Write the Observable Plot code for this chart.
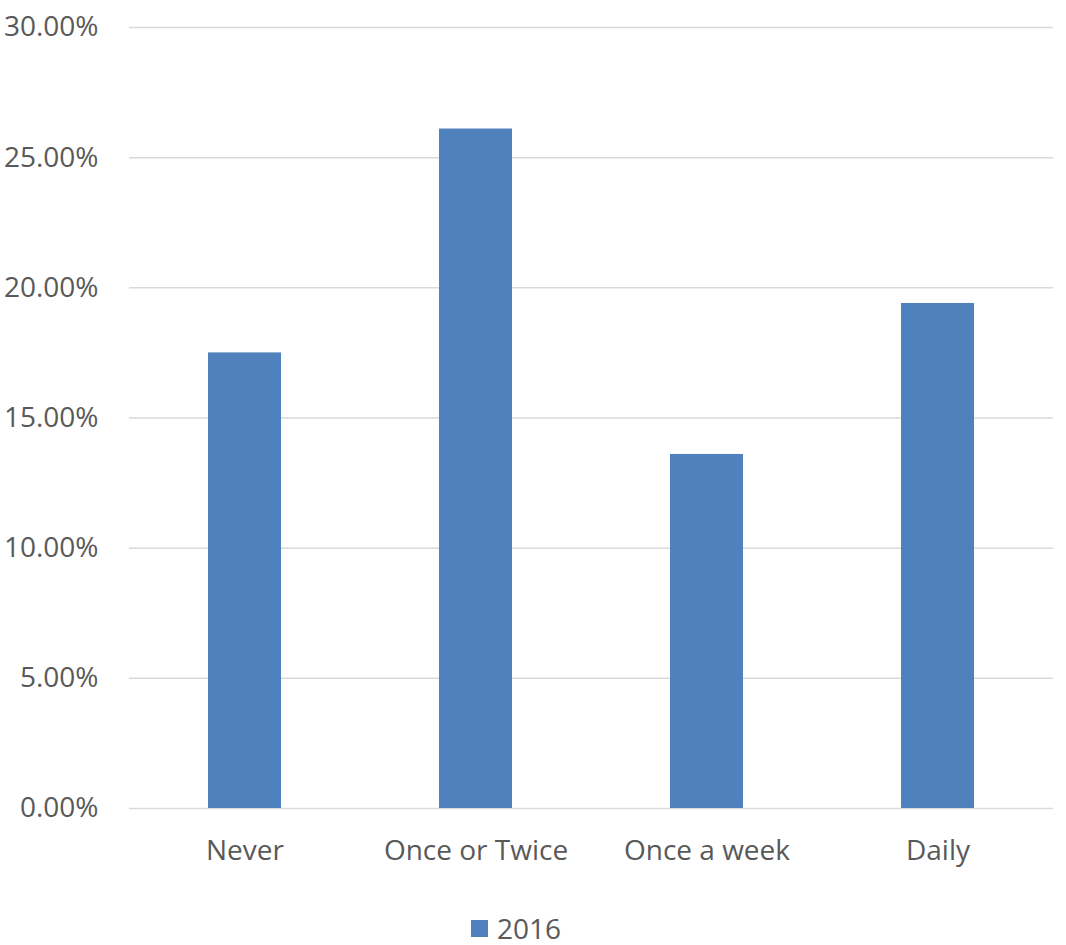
<!DOCTYPE html>
<html>
<head>
<meta charset="utf-8">
<script src="https://cdn.jsdelivr.net/npm/d3@7"></script>
<script src="https://cdn.jsdelivr.net/npm/@observablehq/plot@0.6"></script>
<style>
  html, body { margin: 0; padding: 0; background: #fff; }
  #wrap { position: relative; width: 1066px; height: 945px; font-family: "Open Sans", sans-serif; }
  #legend { position: absolute; top: 909px; left: 0; width: 1032px; display: flex; justify-content: center; align-items: center; font-size: 28px; color: #595959; }
  #legend .sw { width: 17px; height: 17px; background: #4F81BD; margin-right: 9px; }
</style>
</head>
<body>
<div id="wrap">
  <div id="chart"></div>
  <div id="legend"><span class="sw"></span><span id="legtext"></span></div>
</div>
<script>
const categories = ["Never", "Once or Twice", "Once a week", "Daily"];
const values2016 = [0.175, 0.261, 0.136, 0.194];
const yTicks = [0, 0.05, 0.10, 0.15, 0.20, 0.25, 0.30];
const seriesName = "2016";

const data = categories.map((c, i) => ({category: c, value: values2016[i]}));

const chart = Plot.plot({
  width: 1066,
  height: 880,
  marginLeft: 129,
  marginRight: 13,
  marginTop: 27,
  marginBottom: 72,
  style: {fontFamily: "Open Sans, sans-serif", fontSize: "28px", color: "#595959", background: "#fff"},
  x: {domain: categories, paddingInner: 0.684, paddingOuter: 0.342, label: null},
  y: {domain: [0, 0.30], label: null},
  marks: [
    Plot.gridY(yTicks, {stroke: "#d9d9d9", strokeOpacity: 1, strokeWidth: 1.5}),
    Plot.barY(data, {x: "category", y: "value", fill: "#4F81BD"}),
    Plot.axisY(yTicks, {tickSize: 0, tickPadding: 31, tickFormat: d3.format(".2%"), label: null, fill: "#595959"}),
    Plot.axisX({tickSize: 0, tickPadding: 32, label: null, fill: "#595959"})
  ]
});
document.getElementById("chart").appendChild(chart);
document.getElementById("legtext").textContent = seriesName;
</script>
</body>
</html>
